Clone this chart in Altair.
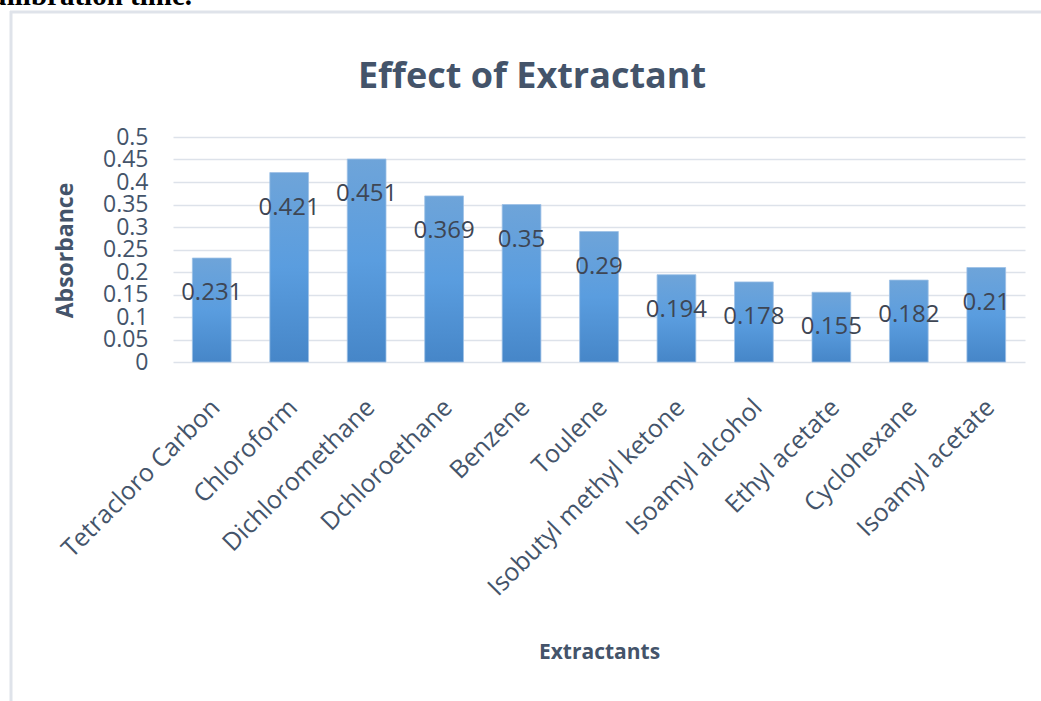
import altair as alt
import pandas as pd

# Extractant solvents and the absorbance measured with each one
EXTRACTANTS = [
    "Tetracloro Carbon", "Chloroform", "Dichloromethane", "Dchloroethane",
    "Benzene", "Toulene", "Isobutyl methyl ketone", "Isoamyl alcohol",
    "Ethyl acetate", "Cyclohexane", "Isoamyl acetate",
]
ABSORBANCE = [0.231, 0.421, 0.451, 0.369, 0.35, 0.29, 0.194, 0.178, 0.155, 0.182, 0.21]
Y_TICKS = [0, 0.05, 0.1, 0.15, 0.2, 0.25, 0.3, 0.35, 0.4, 0.45, 0.5]

TITLE = "Effect of Extractant"
HEADER = "Equilibration time."

PLOT_W, PLOT_H = 852, 225
PAD = {"left": 173, "top": 137, "right": 16, "bottom": 339}

SLATE = "#44546a"
LABEL_INK = "#3e4654"
FRAME = "#dfe3ea"
FONT = "Open Sans"

df = pd.DataFrame({"extractant": EXTRACTANTS, "absorbance": ABSORBANCE})
one = pd.DataFrame({"k": [0]})

x_enc = alt.X(
    "extractant:N",
    sort=EXTRACTANTS,
    scale=alt.Scale(paddingInner=0.5, paddingOuter=0.25),
    axis=alt.Axis(
        title="Extractants",
        labelAngle=-45,
        labelAlign="right",
        labelBaseline="middle",
        labelPadding=41,
        labelOffset=4,
        labelFontSize=25,
        labelFont=FONT,
        labelColor=SLATE,
        labelLimit=400,
        ticks=False,
        domain=False,
        grid=False,
        titleFont=FONT,
        titleFontSize=21,
        titleFontWeight="bold",
        titleColor=SLATE,
        titleX=PLOT_W / 2,
        titleY=290,
        titleAlign="center",
        titleBaseline="middle",
    ),
)

y_enc = alt.Y(
    "absorbance:Q",
    scale=alt.Scale(domain=[0, 0.5], nice=False),
    axis=alt.Axis(
        title="Absorbance",
        values=Y_TICKS,
        tickCount=len(Y_TICKS) * 2,
        format="~g",
        labelFont=FONT,
        labelFontSize=23,
        labelColor=SLATE,
        labelPadding=25,
        labelOverlap=False,
        labelFlush=False,
        labelBaseline="middle",
        ticks=False,
        domain=False,
        grid=True,
        gridColor="#dde2ea",
        gridWidth=1.5,
        titleFont=FONT,
        titleFontSize=23,
        titleFontWeight="bold",
        titleColor=SLATE,
        titleAngle=-90,
        titleX=-108,
        titleY=113,
        titleAlign="center",
        titleBaseline="middle",
    ),
)

bar_fill = alt.LinearGradient(
    gradient="linear",
    x1=0, y1=0, x2=0, y2=1,
    stops=[
        alt.GradientStop(offset=0, color="#6ea4d9"),
        alt.GradientStop(offset=0.5, color="#5a9ddf"),
        alt.GradientStop(offset=1, color="#4686c8"),
    ],
)

bars = alt.Chart(df).mark_bar(
    color=bar_fill, stroke="#9dc0e6", strokeWidth=0.8
).encode(x=x_enc, y=y_enc)

values = alt.Chart(df).mark_text(
    font=FONT, fontSize=24, color=LABEL_INK, baseline="middle", align="center", dy=35
).encode(
    x=alt.X("extractant:N", sort=EXTRACTANTS),
    y="absorbance:Q",
    text=alt.Text("absorbance:Q", format="~g"),
)

title = alt.Chart(one).mark_text(
    text=TITLE, font=FONT, fontSize=36, fontWeight="bold", color=SLATE,
    align="center", baseline="alphabetic",
).encode(x=alt.value(359), y=alt.value(-49))

header = alt.Chart(one).mark_text(
    text=HEADER, font="Liberation Serif", fontSize=29, fontWeight="bold", color="#000000",
    align="right", baseline="alphabetic",
).encode(x=alt.value(19), y=alt.value(-132))

frame_top = alt.Chart(one).mark_rule(color=FRAME, strokeWidth=3).encode(
    x=alt.value(-163), x2=alt.value(1041 - 173), y=alt.value(-125)
)
frame_left = alt.Chart(one).mark_rule(color=FRAME, strokeWidth=3).encode(
    x=alt.value(-162), y=alt.value(-126), y2=alt.value(701 - 137)
)

chart = (
    alt.layer(frame_top, frame_left, header, title, bars, values)
    .properties(
        width=PLOT_W,
        height=PLOT_H,
        padding=PAD,
        autosize=alt.AutoSizeParams(type="none"),
        background="white",
    )
    .configure_view(stroke=None)
)

chart.save("out.html", embed_options={"renderer": "svg", "actions": False})
